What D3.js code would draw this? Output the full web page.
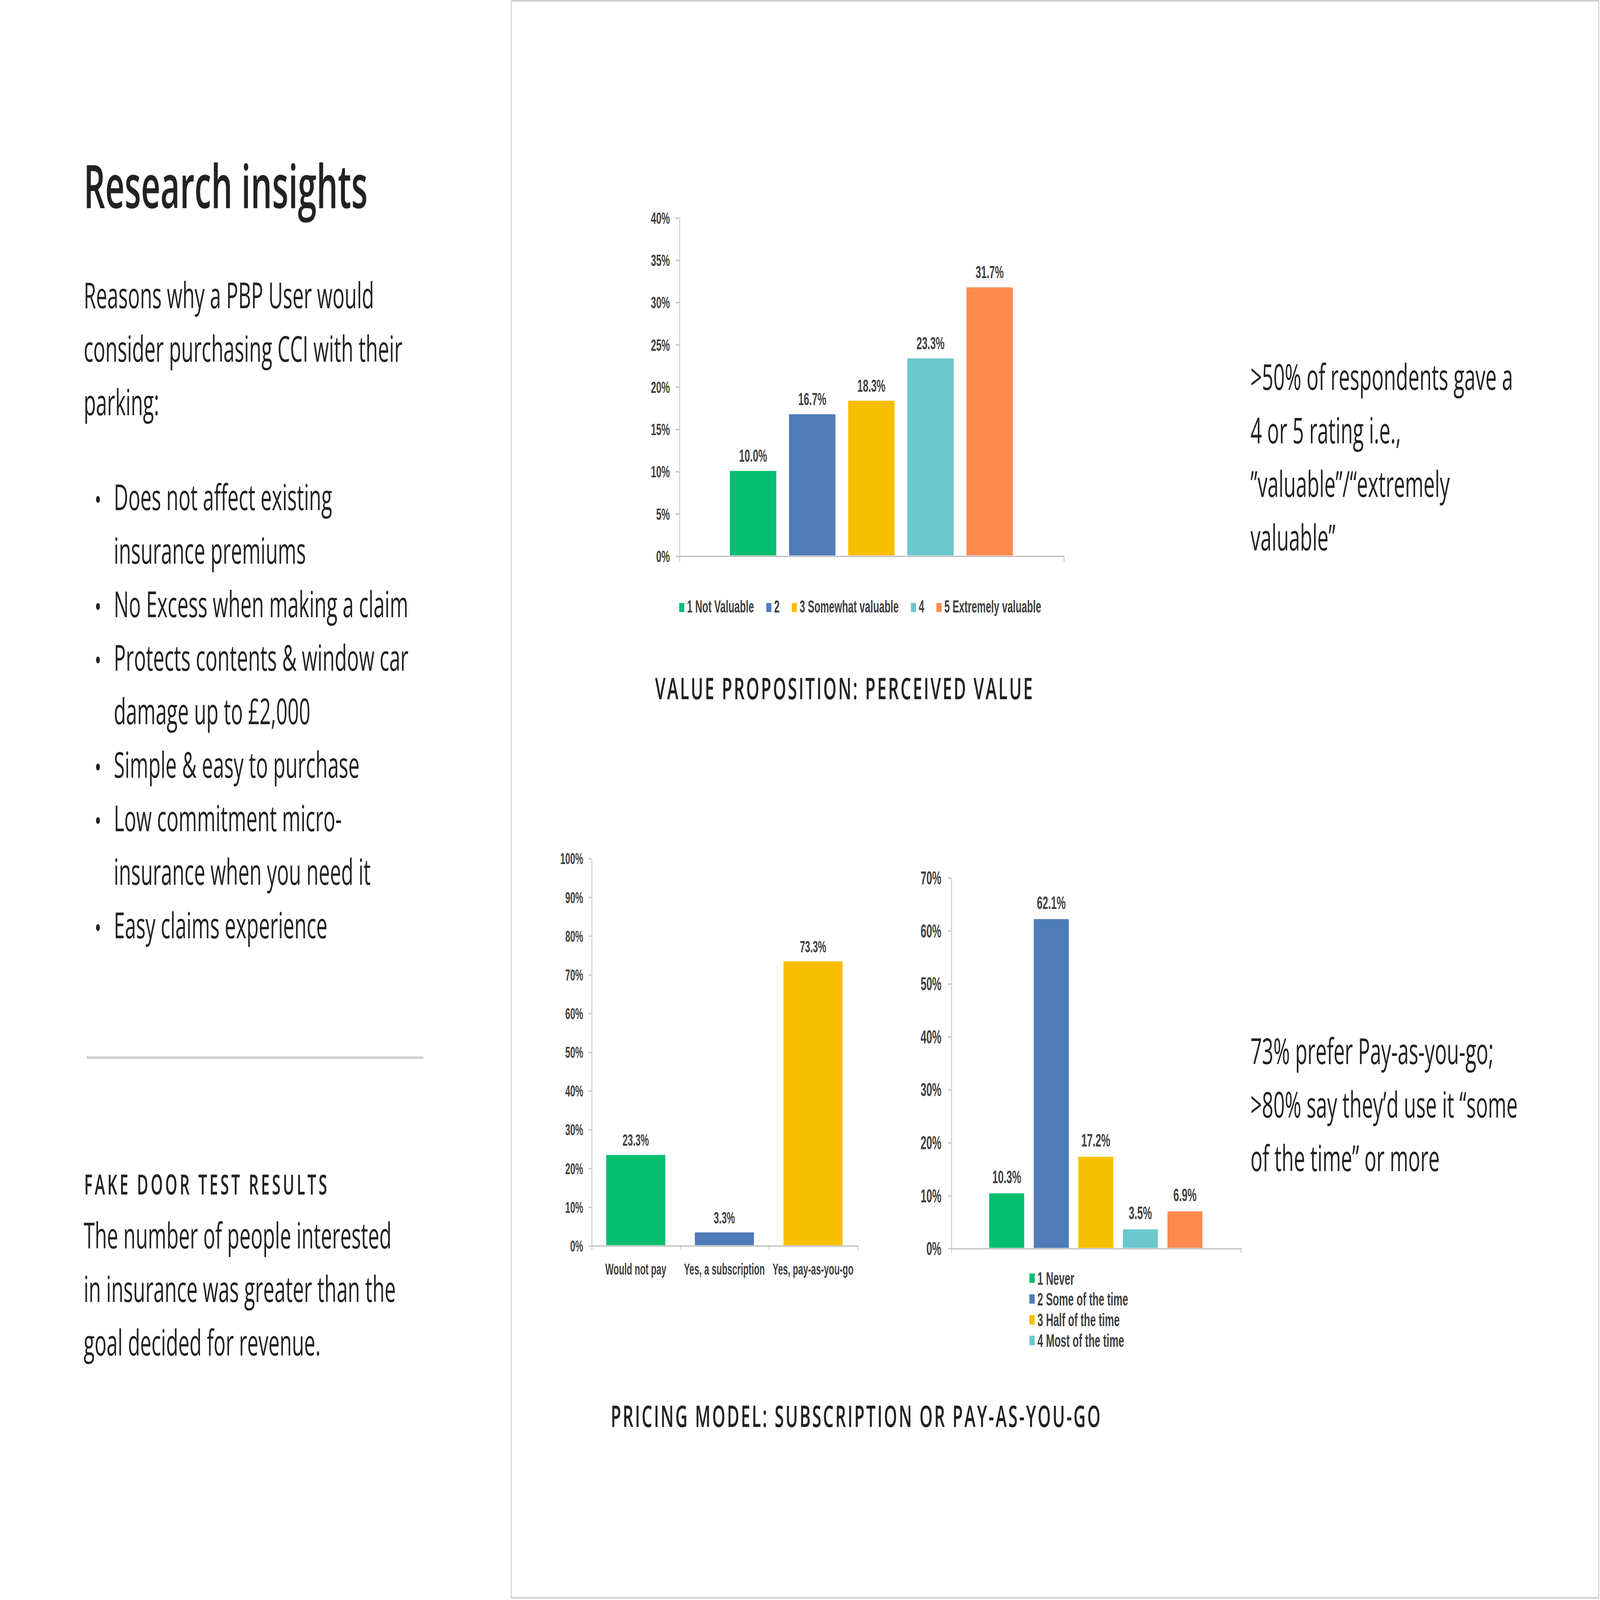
<!DOCTYPE html>
<html>
<head>
<meta charset="utf-8">
<script src="https://cdn.jsdelivr.net/npm/d3@7"></script>
<style>
  html, body { margin: 0; padding: 0; background: #fff; overflow: hidden; }
  svg { display: block; width: 100vw; height: 100vh; }
  .slide text { font-family: "Open Sans", sans-serif; fill: #222; }
  .chart text { font-family: "Liberation Sans", Arial, sans-serif; font-weight: bold; fill: #404040; }
</style>
</head>
<body>
<script>
// chart 1: perceived value (one cluster, five ratings)
var valueLabels = ['1 Not Valuable', '2', '3 Somewhat valuable', '4', '5 Extremely valuable'];
var valueShares = [10.0, 16.7, 18.3, 23.3, 31.7];
var valueTicks = [0, 5, 10, 15, 20, 25, 30, 35, 40];

// chart 2: would they pay
var payLabels = ['Would not pay', 'Yes, a subscription', 'Yes, pay-as-you-go'];
var payShares = [23.3, 3.3, 73.3];
var payTicks = [0, 10, 20, 30, 40, 50, 60, 70, 80, 90, 100];

// chart 3: how often they would use it (legend is cut after 4 items in the original)
var useLabels = ['1 Never', '2 Some of the time', '3 Half of the time', '4 Most of the time', '5 All of the time'];
var useShares = [10.3, 62.1, 17.2, 3.5, 6.9];
var useTicks = [0, 10, 20, 30, 40, 50, 60, 70];

var palette = ['#05BE70', '#4F7CB8', '#F8BF00', '#6CC7CE', '#FF8A4E'];

// slide copy
var introLines = ['Reasons why a PBP User would', 'consider purchasing CCI with their', 'parking:'];
var bulletItems = [
  ['Does not affect existing', 'insurance premiums'],
  ['No Excess when making a claim'],
  ['Protects contents & window car', 'damage up to \u00A32,000'],
  ['Simple & easy to purchase'],
  ['Low commitment micro-', 'insurance when you need it'],
  ['Easy claims experience']
];
var fakeDoorLines = ['The number of people interested', 'in insurance was greater than the', 'goal decided for revenue.'];
var valueNote = ['>50% of respondents gave a', '4 or 5 rating i.e.,', '\u201Dvaluable\u201D/\u201Cextremely', 'valuable\u201D'];
var pricingNote = ['73% prefer Pay-as-you-go;', '>80% say they\u2019d use it \u201Csome', 'of the time\u201D or more'];

// slide drawn in 1568 x 882 units, stretched onto whatever window we get
var W = 1568, H = 882;
var pct = d3.format('.1f');
var axisColor = '#BFBFBF';

var svg = d3.select('body').append('svg')
  .attr('viewBox', '0 0 ' + W + ' ' + H)
  .attr('preserveAspectRatio', 'none');

svg.append('rect').attr('width', W).attr('height', H).attr('fill', '#fff');

var slide = svg.append('g').attr('class', 'slide');

// right hand panel frame
slide.append('rect')
  .attr('x', 501).attr('y', 0.5)
  .attr('width', 1065.8).attr('height', 880.3)
  .attr('fill', 'none')
  .attr('stroke', '#CDCFCE')
  .attr('stroke-width', 0.9);

slide.append('text')
  .attr('x', 82).attr('y', 114.8)
  .attr('font-size', 33)
  .attr('font-weight', 600)
  .text('Research insights');

function textBlock(lines, x, y0, lh) {
  slide.append('g').selectAll('text')
    .data(lines)
    .enter()
    .append('text')
    .attr('x', x)
    .attr('y', (d, i) => y0 + i * lh)
    .attr('font-size', 19.6)
    .text(d => d);
}

var lineH = 29.5;
textBlock(introLines, 82, 169.8, lineH);

// bullets, one row per wrapped line
var rows = [];
bulletItems.forEach(item => {
  item.forEach((line, j) => rows.push({ text: line, first: j == 0 }));
});
var bullets = slide.append('g');
bullets.selectAll('text')
  .data(rows)
  .enter()
  .append('text')
  .attr('x', 111.5)
  .attr('y', (d, i) => 281.3 + i * lineH)
  .attr('font-size', 19.6)
  .text(d => d.text);
bullets.selectAll('circle')
  .data(rows.map((d, i) => ({ first: d.first, i: i })).filter(d => d.first))
  .enter()
  .append('circle')
  .attr('cx', 96)
  .attr('cy', d => 281.3 + d.i * lineH - 6)
  .attr('r', 1.9)
  .attr('fill', '#222');

slide.append('line')
  .attr('x1', 85).attr('x2', 415)
  .attr('y1', 583).attr('y2', 583)
  .attr('stroke', '#CDCFCE')
  .attr('stroke-width', 1.3);

slide.append('text')
  .attr('x', 82.5).attr('y', 658.5)
  .attr('font-size', 15.2)
  .attr('font-weight', 600)
  .attr('textLength', 238)
  .attr('lengthAdjust', 'spacing')
  .text('FAKE DOOR TEST RESULTS');

textBlock(fakeDoorLines, 82, 688.3, lineH);
textBlock(valueNote, 1225.5, 215, lineH);
textBlock(pricingNote, 1225.5, 586.5, lineH);

slide.append('text')
  .attr('x', 642).attr('y', 385.5)
  .attr('font-size', 16.5)
  .attr('font-weight', 600)
  .attr('textLength', 370)
  .attr('lengthAdjust', 'spacing')
  .text('VALUE PROPOSITION: PERCEIVED VALUE');

slide.append('text')
  .attr('x', 598.5).attr('y', 786.6)
  .attr('font-size', 16.5)
  .attr('font-weight', 600)
  .attr('textLength', 480)
  .attr('lengthAdjust', 'spacing')
  .text('PRICING MODEL: SUBSCRIPTION OR PAY-AS-YOU-GO');

// generic excel-like column chart
function barChart(o) {
  var g = svg.append('g').attr('class', 'chart');
  var y = d3.scaleLinear()
    .domain([0, o.ticks[o.ticks.length - 1]])
    .range([o.y0, o.yTop]);

  // bar positions
  var xPos, bw;
  if (o.clustered) {
    var outer = d3.scaleBand().domain(['all']).range([o.left, o.right]).paddingOuter(0.15);
    var inner = d3.scaleBand().domain(d3.range(o.values.length))
      .range([outer('all'), outer('all') + outer.bandwidth()])
      .paddingInner(0.215).paddingOuter(0.1075);
    xPos = i => inner(i);
    bw = inner.bandwidth();
  } else {
    var band = d3.scaleBand().domain(o.labels).range([o.left, o.right])
      .paddingInner(1 / 3).paddingOuter(1 / 6);
    xPos = i => band(o.labels[i]);
    bw = band.bandwidth();
  }

  // y axis
  var yAxis = g.append('g')
    .attr('transform', 'translate(' + o.left + ',0)')
    .call(d3.axisLeft(y).tickValues(o.ticks).tickSize(o.tick).tickSizeOuter(0)
      .tickPadding(o.tickPad).tickFormat(d => d + '%'));
  yAxis.attr('font-family', null).attr('font-size', null);
  yAxis.selectAll('text').attr('font-size', o.tickFont).attr('dy', '0.34em');
  yAxis.selectAll('line, path').attr('stroke', axisColor).attr('stroke-width', 0.7);

  // x axis with boundary ticks
  var nCat = o.clustered ? 1 : o.labels.length;
  var xb = d3.scaleLinear().domain([0, nCat]).range([o.left, o.right]);
  var xAxis = g.append('g')
    .attr('transform', 'translate(0,' + o.y0 + ')')
    .call(d3.axisBottom(xb).tickValues(d3.range(nCat + 1)).tickSize(o.tick).tickSizeOuter(0).tickFormat(''));
  xAxis.selectAll('line, path').attr('stroke', axisColor).attr('stroke-width', 0.7);

  if (!o.clustered) {
    var lab = d3.scaleBand().domain(o.labels).range([o.left, o.right]);
    var xl = g.append('g')
      .attr('transform', 'translate(0,' + o.y0 + ')')
      .call(d3.axisBottom(lab).tickSize(0).tickPadding(o.catPad));
    xl.attr('font-family', null).attr('font-size', null);
    xl.select('.domain').remove();
    xl.selectAll('text').attr('font-size', o.catFont);
  }

  g.append('g').selectAll('rect')
    .data(o.values)
    .enter()
    .append('rect')
    .attr('x', (d, i) => xPos(i))
    .attr('y', d => y(d))
    .attr('width', bw)
    .attr('height', d => o.y0 - y(d))
    .attr('fill', (d, i) => palette[i]);

  g.append('g').selectAll('text')
    .data(o.values)
    .enter()
    .append('text')
    .attr('x', (d, i) => xPos(i) + bw / 2)
    .attr('y', d => y(d) - o.labelGap)
    .attr('text-anchor', 'middle')
    .attr('font-size', o.valueFont)
    .text(d => pct(d) + '%');

  return g;
}

var c1 = barChart({
  values: valueShares, ticks: valueTicks, clustered: true,
  left: 665.6, right: 1042.3, y0: 306.2, yTop: 119.7,
  tick: 3.6, tickPad: 5.5, tickFont: 9.3, valueFont: 9.7, labelGap: 5
});

var c2 = barChart({
  values: payShares, labels: payLabels, ticks: payTicks, clustered: false,
  left: 579.6, right: 840.2, y0: 686.4, yTop: 472.9,
  tick: 2.6, tickPad: 5.5, tickFont: 8.8, valueFont: 9.1, labelGap: 5,
  catFont: 8.7, catPad: 10
});

var c3 = barChart({
  values: useShares, ticks: useTicks, clustered: true,
  left: 932, right: 1215.8, y0: 687.9, yTop: 483.6,
  tick: 2.8, tickPad: 6.6, tickFont: 10.2, valueFont: 10, labelGap: 5.6
});

// legend of chart 1, one row centred under the plot
var leg1 = c1.append('g');
var items1 = leg1.selectAll('g').data(valueLabels).enter().append('g');
items1.append('rect').attr('width', 5).attr('height', 5).attr('y', -5.2)
  .attr('fill', (d, i) => palette[i]);
items1.append('text').attr('x', 7.7).attr('font-size', 9.6).text(d => d);
var cursor = 0;
items1.each(function () {
  var w = this.querySelector('text').getComputedTextLength();
  d3.select(this).attr('transform', 'translate(' + cursor + ',0)');
  cursor += 7.7 + w + 12;
});
var legW = cursor - 12;
leg1.attr('transform', 'translate(' + (843 - legW / 2) + ',337.6)');

// legend of chart 3, stacked and clipped after four entries
var leg3 = c3.append('g').attr('transform', 'translate(1008.8,0)');
var items3 = leg3.selectAll('g').data(useLabels.slice(0, 4)).enter().append('g')
  .attr('transform', (d, i) => 'translate(0,' + (704.6 + i * 11.45) + ')');
items3.append('rect').attr('width', 5.2).attr('height', 5.2).attr('y', -2.6)
  .attr('fill', (d, i) => palette[i]);
items3.append('text').attr('x', 7.9).attr('y', 3.6).attr('font-size', 10).text(d => d);
</script>
</body>
</html>
